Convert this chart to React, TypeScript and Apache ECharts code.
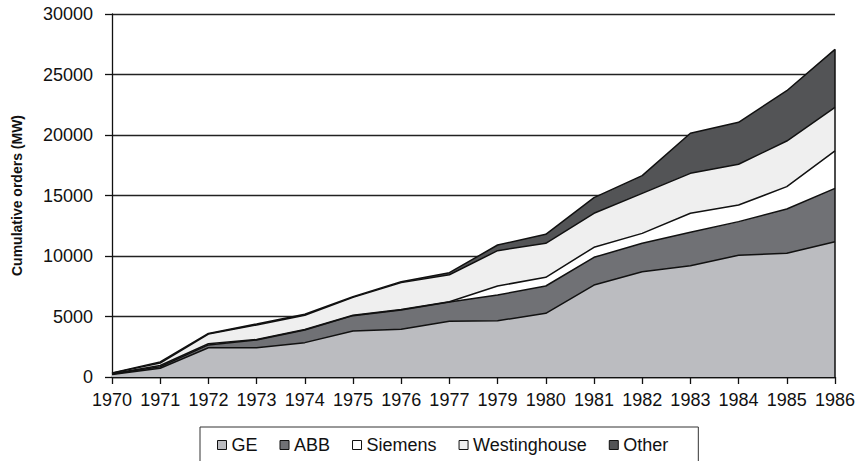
import React, { useEffect, useRef } from "react";
import * as echarts from "echarts";

const years = ["1970", "1971", "1972", "1973", "1974", "1975", "1976", "1977", "1979", "1980", "1981", "1982", "1983", "1984", "1985", "1986"];
const geValues = [200, 720, 2420, 2420, 2840, 3800, 3940, 4600, 4650, 5260, 7600, 8700, 9200, 10060, 10220, 11180];
const abbValues = [50, 130, 230, 640, 1040, 1270, 1600, 1600, 2130, 2260, 2290, 2350, 2760, 2780, 3660, 4410];
const siemensValues = [20, 100, 100, 40, 40, 30, 30, 20, 740, 720, 830, 820, 1570, 1370, 1850, 3090];
const westinghouseValues = [50, 200, 800, 1200, 1180, 1480, 2230, 2230, 2920, 2810, 2810, 3310, 3300, 3370, 3770, 3610];
const otherValues = [20, 100, 50, 80, 80, 60, 80, 170, 470, 740, 1290, 1460, 3310, 3470, 4160, 4790];
const yTicks = { min: 0, max: 30000, interval: 5000 };

const FONT = "'Liberation Sans', Arial, Helvetica, sans-serif";

export default function App() {
  const ref = useRef<HTMLDivElement>(null);
  useEffect(() => {
    if (!ref.current) return;
    const chart = echarts.init(ref.current, null, { renderer: "svg" });
    const last = years.length - 1;
    const total = geValues[last] + abbValues[last] + siemensValues[last] + westinghouseValues[last] + otherValues[last];
    const mk = (name: string, data: number[], fill: string, extra: any = {}) => ({
      name,
      type: "line",
      stack: "total",
      data,
      symbol: "none",
      itemStyle: { color: fill, borderColor: "#111", borderWidth: 1 },
      lineStyle: { color: "#111", width: 1.5 },
      areaStyle: { color: fill, opacity: 1 },
      silent: true,
      ...extra,
    });
    chart.setOption({
      animation: false,
      backgroundColor: "#fff",
      textStyle: { fontFamily: FONT },
      grid: { left: 112, right: 23, top: 14, bottom: 84 },
      legend: {
        left: 200,
        top: 427,
        icon: "rect",
        itemWidth: 9,
        itemHeight: 9,
        itemGap: 22,
        padding: [9, 30, 20, 17],
        borderColor: "#333",
        borderWidth: 1,
        itemStyle: { borderColor: "#111", borderWidth: 1 },
        textStyle: { fontSize: 18, color: "#111", fontFamily: FONT },
        data: ["GE", "ABB", "Siemens", "Westinghouse", "Other"],
      },
      xAxis: {
        type: "category",
        data: years,
        boundaryGap: false,
        axisLine: { lineStyle: { color: "#111", width: 1.3 } },
        axisTick: { show: true, length: 7, interval: 0, lineStyle: { color: "#111", width: 1.3 } },
        axisLabel: { interval: 0, fontSize: 18, color: "#111", margin: 14, fontFamily: FONT },
      },
      yAxis: {
        type: "value",
        min: yTicks.min,
        max: yTicks.max,
        interval: yTicks.interval,
        name: "Cumulative orders (MW)",
        nameLocation: "middle",
        nameGap: 88,
        nameTextStyle: { fontSize: 14, fontWeight: "bold", color: "#111", fontFamily: FONT },
        axisLine: { show: true, lineStyle: { color: "#111", width: 1.3 } },
        axisTick: { show: true, length: 7, lineStyle: { color: "#111", width: 1.3 } },
        axisLabel: { fontSize: 18, color: "#111", margin: 19, fontFamily: FONT, formatter: (v: number) => String(v) },
        splitLine: { show: true, lineStyle: { color: "#222", width: 1.3 } },
      },
      series: [
        mk("GE", geValues, "#bbbcc0"),
        mk("ABB", abbValues, "#707175"),
        mk("Siemens", siemensValues, "#ffffff"),
        mk("Westinghouse", westinghouseValues, "#efefef"),
        mk("Other", otherValues, "#535456", {
          markLine: {
            silent: true,
            symbol: "none",
            label: { show: false },
            lineStyle: { color: "#111", width: 1.5, type: "solid" },
            data: [[{ coord: [years[last], 0] }, { coord: [years[last], total] }]],
          },
        }),
      ],
    });
    return () => chart.dispose();
  }, []);
  return <div ref={ref} style={{ width: 858, height: 461, position: "absolute", left: 0, top: 0 }} />;
}
